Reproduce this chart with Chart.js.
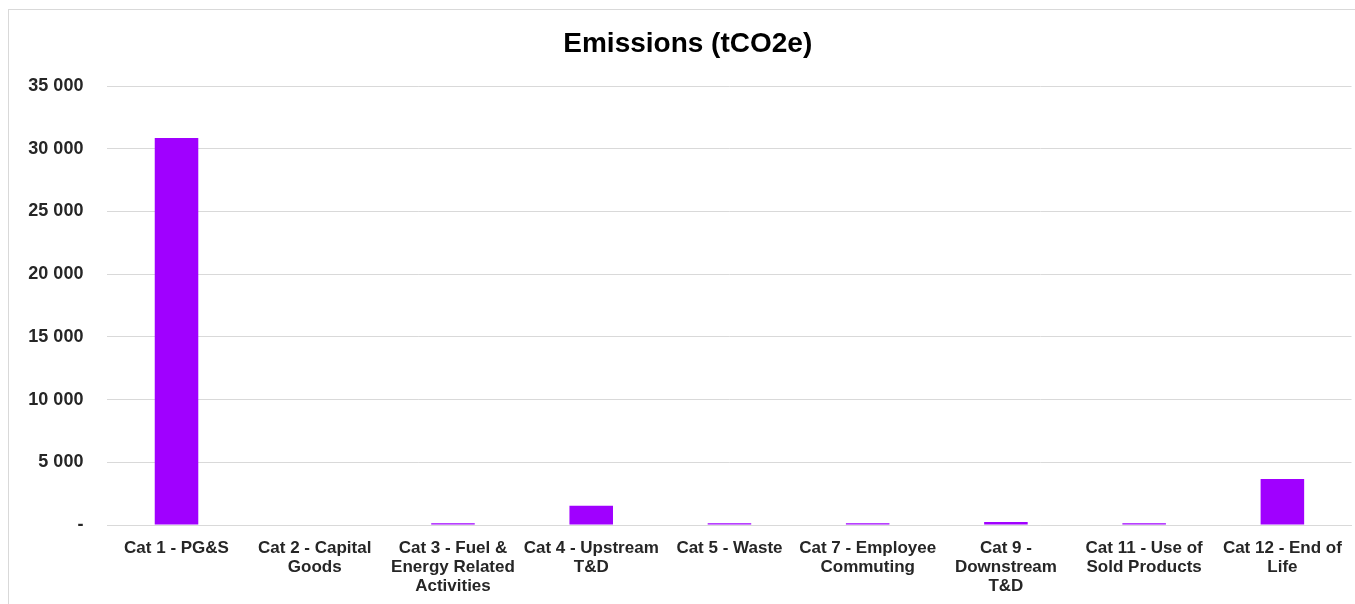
<!DOCTYPE html>
<html>
<head>
<meta charset="utf-8">
<title>Emissions (tCO2e)</title>
<script src="https://cdn.jsdelivr.net/npm/chart.js@4/dist/chart.umd.min.js"></script>
<style>
  html, body { margin: 0; padding: 0; background: #fff; }
  #wrap { position: relative; width: 1355px; height: 604px; overflow: hidden; }
  #frame { position: absolute; left: 8px; top: 9px; width: 1360px; height: 610px; border: 1px solid #d9d9d9; box-sizing: border-box; }
  #chart { position: absolute; left: 0; top: 0; }
</style>
</head>
<body>
<div id="wrap">
  <div id="frame"></div>
  <canvas id="chart" width="1355" height="604"></canvas>
</div>
<script>
// categories as shown under the bars (line breaks as in the picture)
const categories = [
    ["Cat 1 - PG&S"],
    ["Cat 2 - Capital", "Goods"],
    ["Cat 3 - Fuel &", "Energy Related", "Activities"],
    ["Cat 4 - Upstream", "T&D"],
    ["Cat 5 - Waste"],
    ["Cat 7 - Employee", "Commuting"],
    ["Cat 9 -", "Downstream", "T&D"],
    ["Cat 11 - Use of", "Sold Products"],
    ["Cat 12 - End of", "Life"],
];

// tCO2e
const emissions = [30850, 0, 140, 1540, 130, 130, 240, 130, 3670];

const yMax = 35000;
const yStep = 5000;

const fontFamily = "'Liberation Sans', Arial, sans-serif";
const textColor = "#262626";
const gridColor = "#d9d9d9";

function formatTick(value) {
    if (value === 0) return "-";
    return String(value).replace(/\B(?=(\d{3})+(?!\d))/g, " ");
}

const ctx = document.getElementById("chart").getContext("2d");
const emissionsChart = new Chart(ctx, {
    type: "bar",
    data: {
        labels: categories,
        datasets: [
            {
                label: "Emissions (tCO2e)",
                data: emissions,
                backgroundColor: "#a000ff",
                borderWidth: 0,
                categoryPercentage: 1,
                barPercentage: 0.315,
            },
        ],
    },
    options: {
        responsive: false,
        animation: false,
        layout: {
            padding: { top: 10, right: 3.5, bottom: 0, left: 24 },
        },
        plugins: {
            legend: { display: false },
            tooltip: { enabled: false },
            title: {
                display: true,
                text: "Emissions (tCO2e)",
                color: "#000",
                font: { family: fontFamily, size: 28, weight: "bold" },
                padding: { top: 17, bottom: 25.4 },
            },
        },
        scales: {
            x: {
                grid: { display: false },
                border: { display: true, color: gridColor, width: 1 },
                ticks: {
                    color: textColor,
                    font: { family: fontFamily, size: 17, weight: "bold", lineHeight: 1.12 },
                    padding: 6,
                    maxRotation: 0,
                    autoSkip: false,
                },
                afterFit: (scale) => { scale.height = 79; },
            },
            y: {
                min: 0,
                max: yMax,
                grid: { color: gridColor, lineWidth: 1, drawTicks: false },
                border: { display: false },
                ticks: {
                    stepSize: yStep,
                    color: textColor,
                    font: { family: fontFamily, size: 18, weight: "bold" },
                    padding: 24,
                    callback: formatTick,
                },
                afterFit: (scale) => { scale.width = 83.4; },
            },
        },
    },
});
</script>
</body>
</html>
